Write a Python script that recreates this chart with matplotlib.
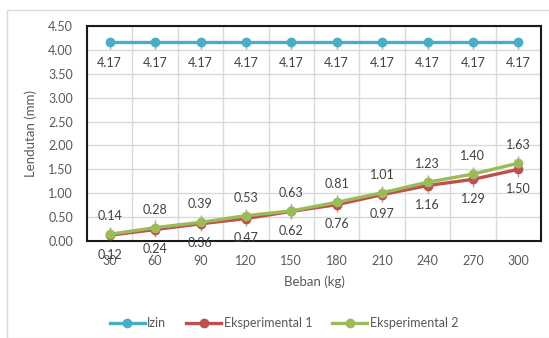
import matplotlib
matplotlib.use("Agg")
import matplotlib.pyplot as plt
from matplotlib.patches import Rectangle
import numpy as np

# Load (kg) and deflection (mm)
beban = [30, 60, 90, 120, 150, 180, 210, 240, 270, 300]
izin = [4.17, 4.17, 4.17, 4.17, 4.17, 4.17, 4.17, 4.17, 4.17, 4.17]
eksperimental_1 = [0.12, 0.24, 0.36, 0.47, 0.62, 0.76, 0.97, 1.16, 1.29, 1.50]
eksperimental_2 = [0.14, 0.28, 0.39, 0.53, 0.63, 0.81, 1.01, 1.23, 1.40, 1.63]
err = 0.15

plt.rcParams['font.family'] = ['Lato', 'DejaVu Sans']
txt = '#595959'
fs = 9

fig = plt.figure(figsize=(5.49, 3.38), dpi=100)
fig.patches.append(Rectangle((7 / 549, 0), 1, 1 - 10 / 338, transform=fig.transFigure,
                             fill=False, edgecolor='#D9D9D9', linewidth=1.0))
ax = fig.add_axes([87 / 549, 1 - 241 / 338, (541 - 87) / 549, (241 - 26) / 338])

x = np.arange(len(beban))
c_izin, c_e1, c_e2 = '#4BACC6', '#C0504D', '#9BBB59'

ax.errorbar(x, izin, yerr=[[err] * len(x), [0] * len(x)], fmt='none', ecolor='#A6A6A6', elinewidth=1, zorder=2)
ax.errorbar(x, eksperimental_1, yerr=err, fmt='none', ecolor='#A6A6A6', elinewidth=1, zorder=2)
ax.errorbar(x, eksperimental_2, yerr=err, fmt='none', ecolor='#A6A6A6', elinewidth=1, zorder=2)

ax.plot(x, izin, color=c_izin, lw=2.4, marker='o', ms=6, label='Izin', zorder=3)
ax.plot(x, eksperimental_1, color=c_e1, lw=2.4, marker='o', ms=6, label='Eksperimental 1', zorder=3)
ax.plot(x, eksperimental_2, color=c_e2, lw=2.4, marker='o', ms=6, label='Eksperimental 2', zorder=4)

for xi, v in zip(x, izin):
    ax.annotate(f'{v:.2f}', (xi, v), xytext=(0, -15), textcoords='offset points',
                ha='center', va='center', fontsize=fs, color='#404040', annotation_clip=False)
for xi, v in zip(x, eksperimental_1):
    ax.annotate(f'{v:.2f}', (xi, v), xytext=(0, -14), textcoords='offset points',
                ha='center', va='center', fontsize=fs, color='#404040', annotation_clip=False)
for xi, v in zip(x, eksperimental_2):
    ax.annotate(f'{v:.2f}', (xi, v), xytext=(0, 13), textcoords='offset points',
                ha='center', va='center', fontsize=fs, color='#404040', annotation_clip=False)

ax.set_xlim(-0.5, len(x) - 0.5)
ax.set_ylim(0, 4.5)
ax.set_yticks(np.arange(0, 4.51, 0.5))
ax.set_yticklabels([f'{t:.2f}' for t in np.arange(0, 4.51, 0.5)])
ax.set_xticks(x)
ax.set_xticklabels([str(b) for b in beban])
ax.set_xticks(np.arange(-0.5, len(x), 1), minor=True)
ax.grid(True, which='minor', axis='x', color='#D9D9D9', lw=1)
ax.grid(True, which='major', axis='y', color='#D9D9D9', lw=1)
ax.set_axisbelow(True)
ax.tick_params(axis='both', which='both', length=0, labelsize=fs, labelcolor=txt)
ax.tick_params(axis='x', pad=10)
ax.tick_params(axis='y', pad=10)
for s in ax.spines.values():
    s.set_color('#1A1A1A')
    s.set_linewidth(1.5)

ax.set_xlabel('Beban (kg)', fontsize=9.5, color=txt, labelpad=6)
ax.set_ylabel('Lendutan (mm)', fontsize=9.5, color=txt, labelpad=8)

fig.legend(loc='center', bbox_to_anchor=(284 / 549, 1 - 323 / 338), ncol=3, frameon=False,
           fontsize=fs, labelcolor=txt, handlelength=2.8, handletextpad=0.2, columnspacing=1.6)

fig.savefig('out.png', dpi=100)
